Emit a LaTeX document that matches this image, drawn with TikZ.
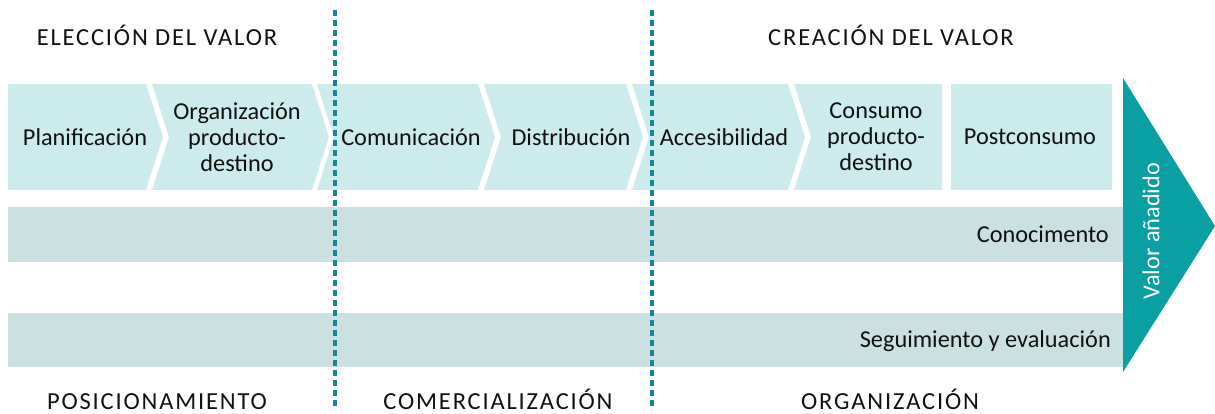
\documentclass[tikz,border=0pt]{standalone}
\usepackage{fontspec}
\setmainfont{Carlito}
\newfontfamily\headfont[LetterSpace=7.5]{Carlito}
\usetikzlibrary{positioning}
\definecolor{celeste}{HTML}{CCEBEC}
\definecolor{gris}{HTML}{CBE1E1}
\definecolor{verdeazul}{HTML}{0AA0A3}
\definecolor{raya}{HTML}{16879A}
\definecolor{texto}{HTML}{111111}

\begin{document}
\begin{tikzpicture}[x=1pt,y=-1pt]
  \tikzset{etapa/.style={font=\fontsize{24.3}{26}\selectfont,text=texto,align=center,inner sep=0pt},
           cabecera/.style={font=\headfont\fontsize{24.5}{26}\selectfont,text=texto,anchor=base,inner sep=0pt}}
  \useasboundingbox (0,0) rectangle (1215,414);
  % flechas de etapas
  \foreach \xa/\xb/\izq/\der in {8/146/0/1, 152/312/1/1, 317/478/1/1, 484/626/1/1, 632/788/1/1, 794/942/1/0, 951/1112/0/0}
    \fill[celeste] (\xa,84) -- (\xb,84) -- (\xb+17*\der,137) -- (\xb,190) -- (\xa,190) -- (\xa+17*\izq,137) -- cycle;
  \node[etapa] (plan) at (85,137) {Planificación};
  \node[etapa] (org) at (237,137) {Organización\\producto-\\destino};
  \node[etapa] (comu) at (411,137) {Comunicación};
  \node[etapa] (dist) at (571,137) {Distribución};
  \node[etapa] (acce) at (724,137) {Accesibilidad};
  \node[etapa] (cons) at (876,137) {Consumo\\producto-\\destino};
  \node[etapa] (post) at (1030,137) {Postconsumo};
  % franjas
  \fill[gris] (8,207) rectangle (1123,262);
  \fill[gris] (8,313) rectangle (1123,367);
  \node[etapa, anchor=base east] (cono) at (1109,242) {Conocimento};
  \node[etapa, anchor=base east] (segu) at (1111,347) {Seguimiento y evaluación};
  % valor
  \fill[verdeazul] (1123,78) -- (1215,226) -- (1123,372) -- cycle;
  \node[etapa, text=white, rotate=90] (valor) at (1151,231) {Valor añadido};
  % cabeceras
  \node[cabecera] (elec) at (157,46) {ELECCIÓN DEL VALOR};
  \node[cabecera] (crea) at (891,46) {CREACIÓN DEL VALOR};
  \node[cabecera] (posi) at (157,409) {POSICIONAMIENTO};
  \node[cabecera] (come) at (498,409) {COMERCIALIZACIÓN};
  \node[cabecera] (orga) at (890,409) {ORGANIZACIÓN};
  % separadores
  \foreach \xs in {335,652}
    \draw[raya, line width=3.2pt, dash pattern=on 6pt off 4pt] (\xs,10) -- (\xs,410);
\end{tikzpicture}
\end{document}
